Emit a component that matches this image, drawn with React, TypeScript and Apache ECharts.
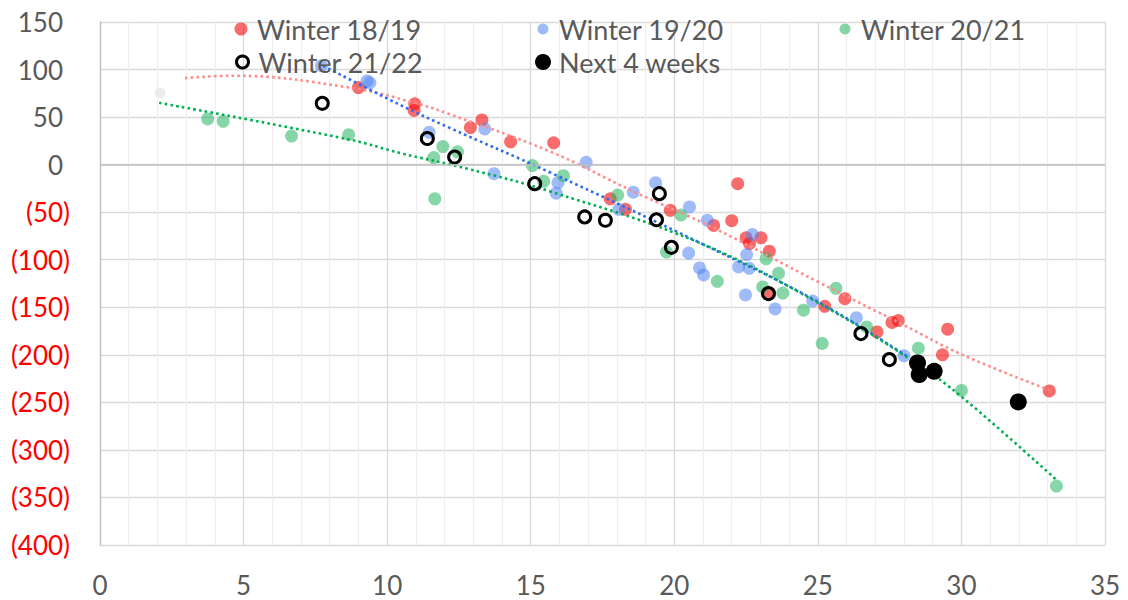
import React, { useEffect, useRef } from 'react';
import * as echarts from 'echarts';

type Pt = [number, number];

const winter1819: Pt[] = [
  [9.0, 81], [10.96, 64], [10.94, 57], [12.9, 39], [13.3, 47], [14.3, 24], [15.8, 23],
  [17.77, -36], [18.3, -47], [19.86, -48], [21.37, -64], [22.0, -59], [22.21, -20],
  [22.5, -77], [22.62, -83], [23.02, -77], [23.31, -91], [23.28, -136], [25.24, -149],
  [25.94, -141], [27.06, -176], [27.58, -166], [27.8, -164], [29.34, -200], [29.52, -173],
  [33.06, -238],
];

const winter1920: Pt[] = [
  [7.71, 104], [9.3, 88], [9.4, 86], [11.46, 34], [13.4, 37.5], [13.72, -9.5], [15.89, -30],
  [15.95, -19], [16.93, 2.5], [18.07, -47], [18.57, -29], [19.35, -19], [20.53, -44.5],
  [21.15, -58.5], [20.5, -93], [20.88, -108.6], [21.02, -116], [22.24, -107.6], [22.61, -109],
  [22.52, -94.6], [22.72, -73.6], [22.48, -137], [23.51, -151.7], [24.82, -143.5],
  [26.34, -161], [28.0, -201],
];

const winter2021: Pt[] = [
  [3.75, 48], [4.29, 45.5], [6.67, 30], [8.66, 31.5], [11.62, 7.5], [11.94, 19], [12.45, 13.5],
  [11.66, -36], [15.06, -1], [15.45, -17.5], [16.14, -11.6], [18.03, -32], [20.23, -53],
  [19.73, -92], [21.5, -122.7], [23.2, -99], [23.08, -128.6], [23.63, -114.3], [23.78, -135],
  [24.5, -153], [25.15, -188], [25.63, -130], [26.7, -170.7], [28.5, -193], [30.0, -237.5],
  [33.31, -338],
];

const winter2122: Pt[] = [
  [7.74, 64.5], [11.4, 27.5], [12.35, 8], [15.14, -20], [16.88, -55], [17.6, -58.5],
  [19.48, -30.5], [19.38, -58], [19.9, -87], [23.28, -135.6], [26.5, -177.7], [27.49, -205],
];

const next4Weeks: Pt[] = [
  [28.47, -208.5], [28.53, -220.8], [29.05, -217.4], [31.98, -249.5],
];

const fadedPoint: Pt[] = [[2.09, 75.4]];

// trend lines
const trend1819: Pt[] = [
  [2.96, 91], [4.64, 93.5], [8.7, 81], [10.96, 65], [12.18, 53], [15.66, 14], [18.56, -28],
  [21.4, -67], [25.05, -124], [27.95, -168], [30.04, -200], [33.06, -237],
];
const trend1920: Pt[] = [
  [7.77, 104], [10.44, 63], [12.18, 38.6], [15.66, -8], [20.88, -82], [25.05, -145], [28.18, -203],
];
const trend2021: Pt[] = [
  [2.06, 65], [8.7, 26.3], [10.44, 12.3], [12.82, -4.5], [15.66, -28], [20.88, -82.3],
  [25.05, -146], [28.41, -208.5], [30.04, -245], [33.29, -331],
];

const seriesNames = ['Winter 18/19', 'Winter 19/20', 'Winter 20/21', 'Winter 21/22', 'Next 4 weeks'];

const X_MIN = 0;
const X_MAX = 35;
const X_STEP = 5;
const Y_MIN = -400;
const Y_MAX = 150;
const Y_STEP = 50;

const FONT = 'Lato';
const GREY = '#595959';

const hollowStyle = { color: 'rgba(255,255,255,0)', borderColor: '#000000', borderWidth: 3, opacity: 1 };

const legendLayout = [
  { cx: 241, cy: 29, size: 13, style: null as any },
  { cx: 543, cy: 29, size: 11, style: null as any },
  { cx: 845, cy: 29, size: 11, style: null as any },
  { cx: 241, cy: 62, size: 12, style: hollowStyle },
  { cx: 543, cy: 62, size: 16, style: null as any },
];

function buildOption() {
  const legends = seriesNames.map((name, i) => {
    const l = legendLayout[i];
    const lg: any = {
      data: [name],
      left: l.cx - l.size / 2,
      top: l.cy - 14,
      padding: 0,
      itemWidth: l.size,
      itemHeight: l.size,
      icon: 'circle',
      selectedMode: false,
      textStyle: {
        color: GREY,
        fontSize: 27,
        fontFamily: FONT,
        lineHeight: 28,
        padding: [0, 0, 0, 11 - l.size / 2],
      },
    };
    if (l.style) lg.itemStyle = l.style;
    return lg;
  });

  const trendLine = (name: string, data: Pt[], color: string) => ({
    name,
    type: 'line',
    data,
    smooth: 0.4,
    showSymbol: false,
    symbol: 'none',
    silent: true,
    lineStyle: { color, width: 2.6, type: [2.6, 3.2], cap: 'butt' },
    z: 3,
  });

  return {
    animation: false,
    textStyle: { fontFamily: FONT },
    grid: { left: 100, right: 23, top: 22, bottom: 55 },
    legend: legends,
    xAxis: {
      type: 'value',
      min: X_MIN,
      max: X_MAX,
      interval: X_STEP,
      axisLine: { show: false },
      axisTick: { show: false },
      axisLabel: { color: GREY, fontSize: 26, lineHeight: 26, fontFamily: FONT, margin: 27 },
      splitLine: { show: true, lineStyle: { color: '#d9d9d9', width: 1.3 } },
      minorTick: { show: false, splitNumber: 5 },
      minorSplitLine: { show: true, lineStyle: { color: '#eeeeee', width: 1.3 } },
    },
    yAxis: {
      type: 'value',
      min: Y_MIN,
      max: Y_MAX,
      interval: Y_STEP,
      axisLine: { show: true, lineStyle: { color: '#bfbfbf', width: 1.3 } },
      axisTick: { show: false },
      axisLabel: {
        margin: 30,
        formatter: (v: number) => (v < 0 ? `{neg|(${-v})}` : `{pos|${v}}`),
        rich: {
          neg: { color: '#ff0000', fontSize: 26, fontFamily: FONT },
          pos: { color: GREY, fontSize: 26, fontFamily: FONT, padding: [0, 7, 0, 0] },
        },
      },
      splitLine: { show: true, lineStyle: { color: '#d9d9d9', width: 1.3 } },
    },
    series: [
      {
        name: '_faded',
        type: 'scatter',
        data: fadedPoint,
        symbolSize: 11,
        itemStyle: { color: '#ececec', opacity: 1 },
        silent: true,
        z: 1,
        markLine: {
          silent: true,
          symbol: 'none',
          label: { show: false },
          lineStyle: { color: '#bfbfbf', type: 'solid', width: 1.5 },
          data: [{ yAxis: 0 }],
        },
      },
      {
        name: seriesNames[0],
        type: 'scatter',
        data: winter1819,
        symbolSize: 13,
        itemStyle: { color: '#F50A0A', opacity: 0.6 },
        z: 2,
      },
      {
        name: seriesNames[1],
        type: 'scatter',
        data: winter1920,
        symbolSize: 13,
        itemStyle: { color: '#5285F2', opacity: 0.55 },
        z: 2,
      },
      {
        name: seriesNames[2],
        type: 'scatter',
        data: winter2021,
        symbolSize: 13,
        itemStyle: { color: '#25B461', opacity: 0.55 },
        z: 2,
      },
      trendLine('_t1819', trend1819, '#FF8C8C'),
      trendLine('_t1920', trend1920, '#2E6BF0'),
      trendLine('_t2021', trend2021, '#00B050'),
      {
        name: seriesNames[3],
        type: 'scatter',
        data: winter2122,
        symbolSize: 12,
        itemStyle: hollowStyle,
        z: 4,
      },
      {
        name: seriesNames[4],
        type: 'scatter',
        data: next4Weeks,
        symbolSize: 17,
        itemStyle: { color: '#000000', opacity: 1 },
        z: 5,
      },
    ],
  };
}

export default function App() {
  const ref = useRef<HTMLDivElement>(null);
  useEffect(() => {
    if (!ref.current) return;
    const chart = echarts.init(ref.current, null, { renderer: 'svg' });
    chart.setOption(buildOption() as any);
    return () => chart.dispose();
  }, []);
  return (
    <div
      ref={ref}
      style={{ position: 'absolute', left: 0, top: 0, width: 1128, height: 600, background: '#ffffff' }}
    />
  );
}
